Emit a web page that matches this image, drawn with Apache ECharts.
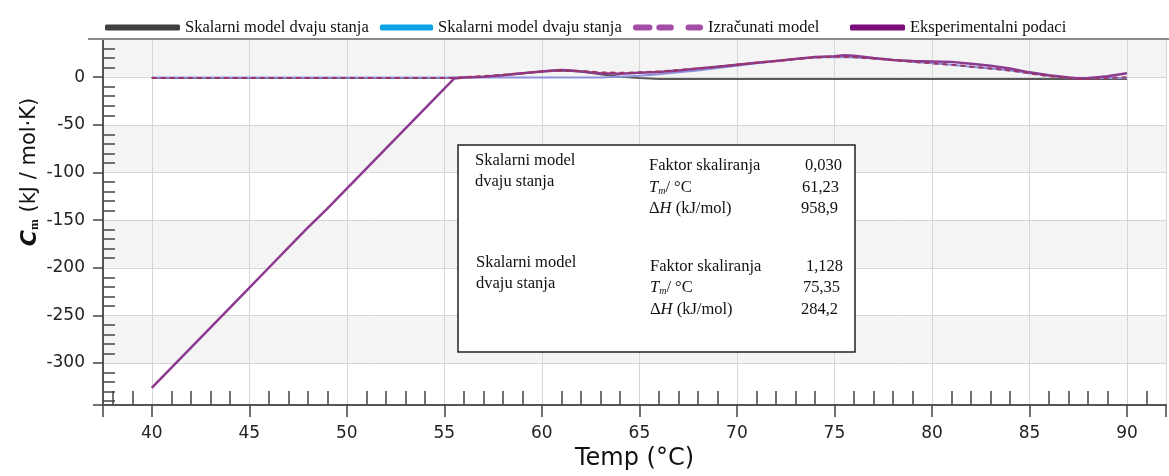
<!DOCTYPE html>
<html>
<head>
<meta charset="utf-8">
<script src="https://cdn.jsdelivr.net/npm/echarts@6/dist/echarts.min.js"></script>
<style>
html,body{margin:0;padding:0;background:#fff;}
#chart{width:1169px;height:476px;}
</style>
</head>
<body>
<div id="chart"></div>
<script>
// ---- data ----
const seriesNames = ['Skalarni model dvaju stanja', 'Skalarni model dvaju stanja ', 'Izračunati model', 'Eksperimentalni podaci'];

const expT  = [40,41,42,43,44,45,46,47,48,49,50,51,52,53,54,55,55.5,56,57,58,59,60,60.5,61,61.5,62,63,64,65,66,67,68,69,70,71,72,73,74,75,75.5,76,77,78,79,80,81,82,83,84,85,86,87,87.5,88,88.5,89,89.5,90];
const expCp = [-326,-305,-284,-263,-242,-221,-200,-179,-158,-138,-117,-96,-75,-54,-33,-12,-1.5,-0.5,0.5,2,4,6,7,7.5,7,6,4,3.5,4.5,5.5,7,9,11,13,15,17,19,21,22,23,22.5,20,18,17,16.5,16,14,12,9,5,2,-0.5,-1.5,-1,0,1,2.5,4];

const fitT  = [40,45,50,55,55.5,56,57,58,59,60,61,62,63,64,65,66,67,68,69,70,71,72,73,74,75,76,77,78,79,80,81,82,83,84,85,86,87,88,89,90];
const fitCp = [-1,-1,-1,-1,-1,0,1,2.5,4,6,7,6.5,5,4.5,5,6,7.5,9,11,13,15,17,19,20.5,21.5,21,19.5,18,16,14.5,13,11,9,7,4,1,-1,-2,-1,0];

const m2T  = [40,45,50,55,60,63,64,65,66,67,68,69,70,71,72,73,74,75,76,77,78,79,80,81,82,83,84,85,86,87,88,89,90];
const m2Cp = [-0.5,-0.5,-0.5,-0.5,-0.5,-0.5,0.5,1.5,3,5,7,9.5,12,14.5,17,19,20.5,21,20.5,19.5,18,16,14.5,13,11,9,7,4,1.5,-0.5,-1,-1,-1];

const m1T  = [40,45,50,55,56,57,58,59,60,61,62,63,64,65,66,70,75,80,85,90];
const m1Cp = [-1,-1,-1,-1,-0.5,0.5,2,4,6,7,6,3,0.5,-1,-2,-2,-2,-2,-2,-2];

const zip = (a, b) => a.map((v, i) => [v, b[i]]);

const serif = 'Liberation Serif';
const sans = 'DejaVu Sans';

const chart = echarts.init(document.getElementById('chart'), null, {renderer: 'canvas'});

function legendItem(name, left, w, icon, color) {
  return {
    show: true, left: left, top: 14, itemWidth: w, itemHeight: 6, itemGap: 0,
    icon: icon, selectedMode: false,
    textStyle: {fontFamily: serif, fontSize: 16.5, color: '#111', padding: [2, 0, 0, 0]},
    data: [{name: name, itemStyle: {color: color}}]
  };
}

const dashIcon = 'path://M3,0h14a3,3 0 0 1 0,6h-14a3,3 0 0 1 0,-6z M27,0h12a3,3 0 0 1 0,6h-12a3,3 0 0 1 0,-6z M57,0h12a3,3 0 0 1 0,6h-12a3,3 0 0 1 0,-6z';

function boxText(x, y, text, align) {
  return {type: 'text', z: 20, x: x, y: y,
    style: {text: text, textAlign: align || 'left', textVerticalAlign: 'middle',
      font: '16.5px "Liberation Serif"', fill: '#111',
      rich: {
        i: {fontFamily: serif, fontSize: 16.5, fontStyle: 'italic', fill: '#111'},
        s: {fontFamily: serif, fontSize: 10, fontStyle: 'italic', fill: '#111', padding: [6, 0, 0, 0]},
        n: {fontFamily: serif, fontSize: 16.5, fill: '#111'}
      }}};
}

const option = {
  backgroundColor: '#fff',
  animation: false,
  legend: [
    legendItem(seriesNames[0], 100, 75, 'roundRect', '#3f3f3f'),
    legendItem(seriesNames[1], 375, 53, 'roundRect', '#0aa3e6'),
    legendItem(seriesNames[2], 628, 70, dashIcon, '#a44ca6'),
    legendItem(seriesNames[3], 845, 55, 'roundRect', '#7c0c7c')
  ],
  grid: {left: 103, right: 0, top: 39, bottom: 69, containLabel: false},
  xAxis: {
    type: 'value', min: 37.5, max: 92, splitNumber: 11,
    name: 'Temp (°C)', nameLocation: 'middle', nameGap: 42,
    nameTextStyle: {fontFamily: sans, fontSize: 24, color: '#111'},
    axisLine: {show: true, onZero: false, lineStyle: {color: '#555', width: 2}},
    axisTick: {show: true, length: 12, lineStyle: {color: '#444', width: 1.5}},
    minorTick: {show: true, splitNumber: 5, length: -14, lineStyle: {color: '#444', width: 1.5}},
    axisLabel: {margin: 20, fontFamily: sans, fontSize: 17, color: '#222',
      formatter: v => (Math.abs(v % 5) < 1e-9 ? String(v) : '')},
    splitLine: {show: true, lineStyle: {color: '#d6d6d6', width: 1}},
    minorSplitLine: {show: false}
  },
  yAxis: {
    type: 'value', min: -344, max: 40, splitNumber: 8,
    axisLine: {show: true, onZero: false, lineStyle: {color: '#555', width: 2}},
    axisTick: {show: true, length: 10, lineStyle: {color: '#444', width: 1.5}},
    minorTick: {show: true, splitNumber: 5, length: -12, lineStyle: {color: '#444', width: 1.5}},
    axisLabel: {margin: 18, fontFamily: sans, fontSize: 17, color: '#222',
      formatter: v => (Math.abs(v % 50) < 1e-9 ? String(v) : '')},
    splitLine: {show: true, lineStyle: {color: '#d6d6d6', width: 1}},
    splitArea: {show: true, areaStyle: {color: ['#ffffff', '#f4f4f4']}}
  },
  series: [
    {name: seriesNames[0], type: 'line', data: zip(m1T, m1Cp), showSymbol: false, symbol: 'none',
     color: '#5a5a5a', lineStyle: {width: 2, color: '#5a5a5a'}, z: 2},
    {name: seriesNames[1], type: 'line', data: zip(m2T, m2Cp), showSymbol: false, symbol: 'none',
     color: '#8e92dc', lineStyle: {width: 2, color: '#8e92dc'}, z: 2},
    {name: seriesNames[3], type: 'line', data: zip(expT, expCp), showSymbol: false, symbol: 'none',
     color: '#8b3a90', lineStyle: {width: 2.5, color: '#8b3a90'}, z: 3},
    {name: seriesNames[2], type: 'line', data: zip(fitT, fitCp), showSymbol: false, symbol: 'none',
     color: '#9a3565', lineStyle: {width: 2, color: '#9a3565', type: [5, 4]}, z: 4}
  ],
  graphic: [
    {type: 'line', z: 10, shape: {x1: 88, y1: 39, x2: 1169, y2: 39}, style: {stroke: '#8a8a8a', lineWidth: 2}},
    {type: 'text', z: 10, x: 30, y: 172, rotation: Math.PI / 2,
     style: {text: '{c|C}{m|m} (kJ / mol·K)', textAlign: 'center', textVerticalAlign: 'middle',
       font: '21px "DejaVu Sans"', fill: '#111',
       rich: {c: {fontFamily: sans, fontSize: 22, fontStyle: 'italic', fontWeight: 'bold', fill: '#111'},
              m: {fontFamily: serif, fontSize: 13, fontWeight: 'bold', fill: '#111', padding: [9, 0, 0, 0]}}}},
    {type: 'rect', z: 10, shape: {x: 458, y: 145, width: 397, height: 207},
     style: {fill: '#fff', stroke: '#222', lineWidth: 1.5}},
    boxText(475, 161, 'Skalarni model'),
    boxText(475, 182, 'dvaju stanja'),
    boxText(649, 166, 'Faktor skaliranja'),
    boxText(649, 188, '{i|T}{s|m}{n|/ °C}'),
    boxText(649, 209, 'Δ{i|H} (kJ/mol)'),
    boxText(842, 166, '0,030', 'right'),
    boxText(839, 188, '61,23', 'right'),
    boxText(838, 209, '958,9', 'right'),
    boxText(476, 263, 'Skalarni model'),
    boxText(476, 284, 'dvaju stanja'),
    boxText(650, 267, 'Faktor skaliranja'),
    boxText(650, 288, '{i|T}{s|m}{n|/ °C}'),
    boxText(650, 310, 'Δ{i|H} (kJ/mol)'),
    boxText(843, 267, '1,128', 'right'),
    boxText(840, 288, '75,35', 'right'),
    boxText(838, 310, '284,2', 'right')
  ]
};

chart.setOption(option);
</script>
</body>
</html>
